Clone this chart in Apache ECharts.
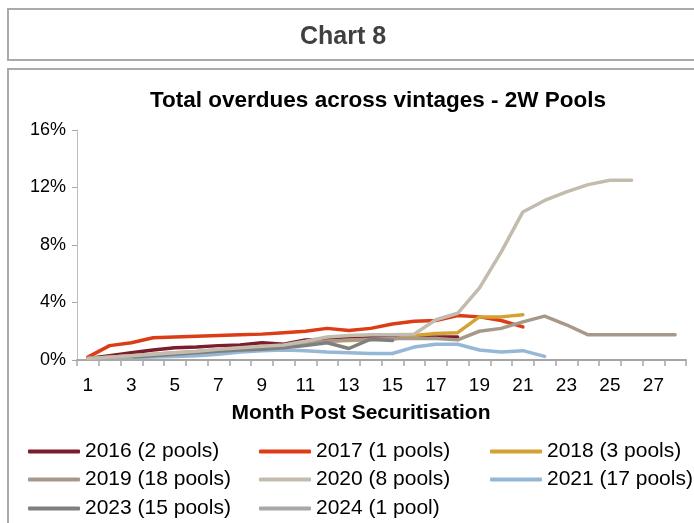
<!DOCTYPE html>
<html>
<head>
<meta charset="utf-8">
<script src="https://cdn.jsdelivr.net/npm/echarts@6/dist/echarts.min.js"></script>
<style>
  html, body { margin: 0; padding: 0; background: #fff; }
  #chart { width: 694px; height: 523px; }
</style>
</head>
<body>
<div id="chart"></div>
<script>
// month post securitisation
const months = ['1','2','3','4','5','6','7','8','9','10','11','12','13','14',
                '15','16','17','18','19','20','21','22','23','24','25','26','27','28'];

// total overdues, % of pool
const v2016 = [0.1, 0.3, 0.5, 0.7, 0.85, 0.9, 1.0, 1.05, 1.2, 1.1, 1.4, 1.45, 1.5, 1.55, 1.55, 1.6, 1.6, 1.6];
const v2017 = [0.2, 1.0, 1.2, 1.55, 1.6, 1.65, 1.7, 1.75, 1.8, 1.9, 2.0, 2.2, 2.05, 2.2, 2.5, 2.7, 2.75, 3.1, 3.0, 2.75, 2.3];
const v2018 = [0.1, 0.2, 0.3, 0.35, 0.45, 0.55, 0.65, 0.75, 0.85, 0.95, 1.1, 1.3, 1.35, 1.4, 1.45, 1.7, 1.85, 1.9, 3.0, 3.0, 3.15];
const v2019 = [0.1, 0.2, 0.3, 0.4, 0.5, 0.6, 0.7, 0.8, 0.9, 1.0, 1.15, 1.3, 1.4, 1.45, 1.5, 1.5, 1.5, 1.4, 2.0, 2.2, 2.65, 3.05, 2.45, 1.75, 1.75, 1.75, 1.75, 1.75];
const v2020 = [0.1, 0.2, 0.3, 0.4, 0.5, 0.6, 0.75, 0.85, 0.95, 1.05, 1.3, 1.6, 1.7, 1.75, 1.75, 1.8, 2.8, 3.25, 5.0, 7.5, 10.3, 11.1, 11.7, 12.2, 12.5, 12.5];
const v2021 = [0.05, 0.1, 0.15, 0.2, 0.25, 0.3, 0.4, 0.55, 0.65, 0.7, 0.65, 0.55, 0.5, 0.45, 0.45, 0.9, 1.1, 1.1, 0.7, 0.55, 0.65, 0.25];
const v2023 = [0.1, 0.15, 0.2, 0.3, 0.4, 0.5, 0.6, 0.7, 0.75, 0.85, 1.0, 1.2, 0.8, 1.45, 1.35];
const v2024 = [0.05, 0.05, 0.05];

const yTicks = [0, 4, 8, 12, 16];

const names = ['2016 (2 pools)', '2017 (1 pools)', '2018 (3 pools)', '2019 (18 pools)',
               '2020 (8 pools)', '2021 (17 pools)', '2023 (15 pools)', '2024 (1 pool)'];
const values = [v2016, v2017, v2018, v2019, v2020, v2021, v2023, v2024];
const colors = ['#7d1c2c', '#dc3d17', '#d4a132', '#a7998a', '#c4bbaf', '#95b8d6', '#7f7f7f', '#a8a8a8'];

const FONT = "'Liberation Sans', Arial, sans-serif";

const chart = echarts.init(document.getElementById('chart'));

const series = names.map((n, i) => ({
  name: n,
  type: 'line',
  data: values[i],
  symbol: 'none',
  z: i == 4 ? 3 : 2,
  lineStyle: { width: 3.5, color: colors[i], cap: 'round', join: 'round' },
  itemStyle: { color: colors[i] }
}));

// legend laid out in 3 columns, one legend per entry
const colX = [28, 259, 490];
const rowY = [441, 469, 498];
const legends = names.map((n, i) => ({
  data: [n],
  left: colX[i % 3],
  top: rowY[Math.floor(i / 3)],
  padding: 0,
  itemWidth: 52,
  itemHeight: 4,
  itemGap: 4,
  icon: 'roundRect',
  textStyle: { fontFamily: FONT, fontSize: 21, color: '#000' }
}));

chart.setOption({
  animation: false,
  textStyle: { fontFamily: FONT },
  graphic: [
    { type: 'rect', shape: { x: 8, y: 9, width: 720, height: 51 },
      style: { fill: '#fff', stroke: '#aaaaaa', lineWidth: 2 } },
    { type: 'rect', shape: { x: 8, y: 69, width: 720, height: 500 },
      style: { fill: 'none', stroke: '#aaaaaa', lineWidth: 2 } },
    { type: 'text', x: 343, y: 37,
      style: { text: 'Chart 8', fill: '#404040', font: "bold 25px " + FONT, align: 'center', verticalAlign: 'middle' } },
    { type: 'text', x: 378, y: 101,
      style: { text: 'Total overdues across vintages - 2W Pools', fill: '#000', font: "bold 22.5px " + FONT, align: 'center', verticalAlign: 'middle' } },
    { type: 'text', x: 361, y: 413,
      style: { text: 'Month Post Securitisation', fill: '#000', font: "bold 21px " + FONT, align: 'center', verticalAlign: 'middle' } }
  ],
  grid: { left: 77, right: 8, top: 130, bottom: 163 },
  xAxis: {
    type: 'category',
    data: months,
    boundaryGap: true,
    axisLine: { lineStyle: { color: '#a6a6a6', width: 2 } },
    axisTick: { show: true, interval: 0, length: 6, lineStyle: { color: '#a6a6a6', width: 1.5 } },
    axisLabel: { interval: 1, fontSize: 19, color: '#000', margin: 16, fontFamily: FONT }
  },
  yAxis: {
    type: 'value',
    min: 0,
    max: 16,
    interval: 4,
    axisLine: { show: true, lineStyle: { color: '#bdbdbd', width: 1 } },
    axisTick: { show: true, length: 5, lineStyle: { color: '#a6a6a6' } },
    splitLine: { show: false },
    axisLabel: {
      fontSize: 18, color: '#000', margin: 11, fontFamily: FONT,
      formatter: v => yTicks.includes(v) ? v + '%' : ''
    }
  },
  legend: legends,
  series: series
});
</script>
</body>
</html>
